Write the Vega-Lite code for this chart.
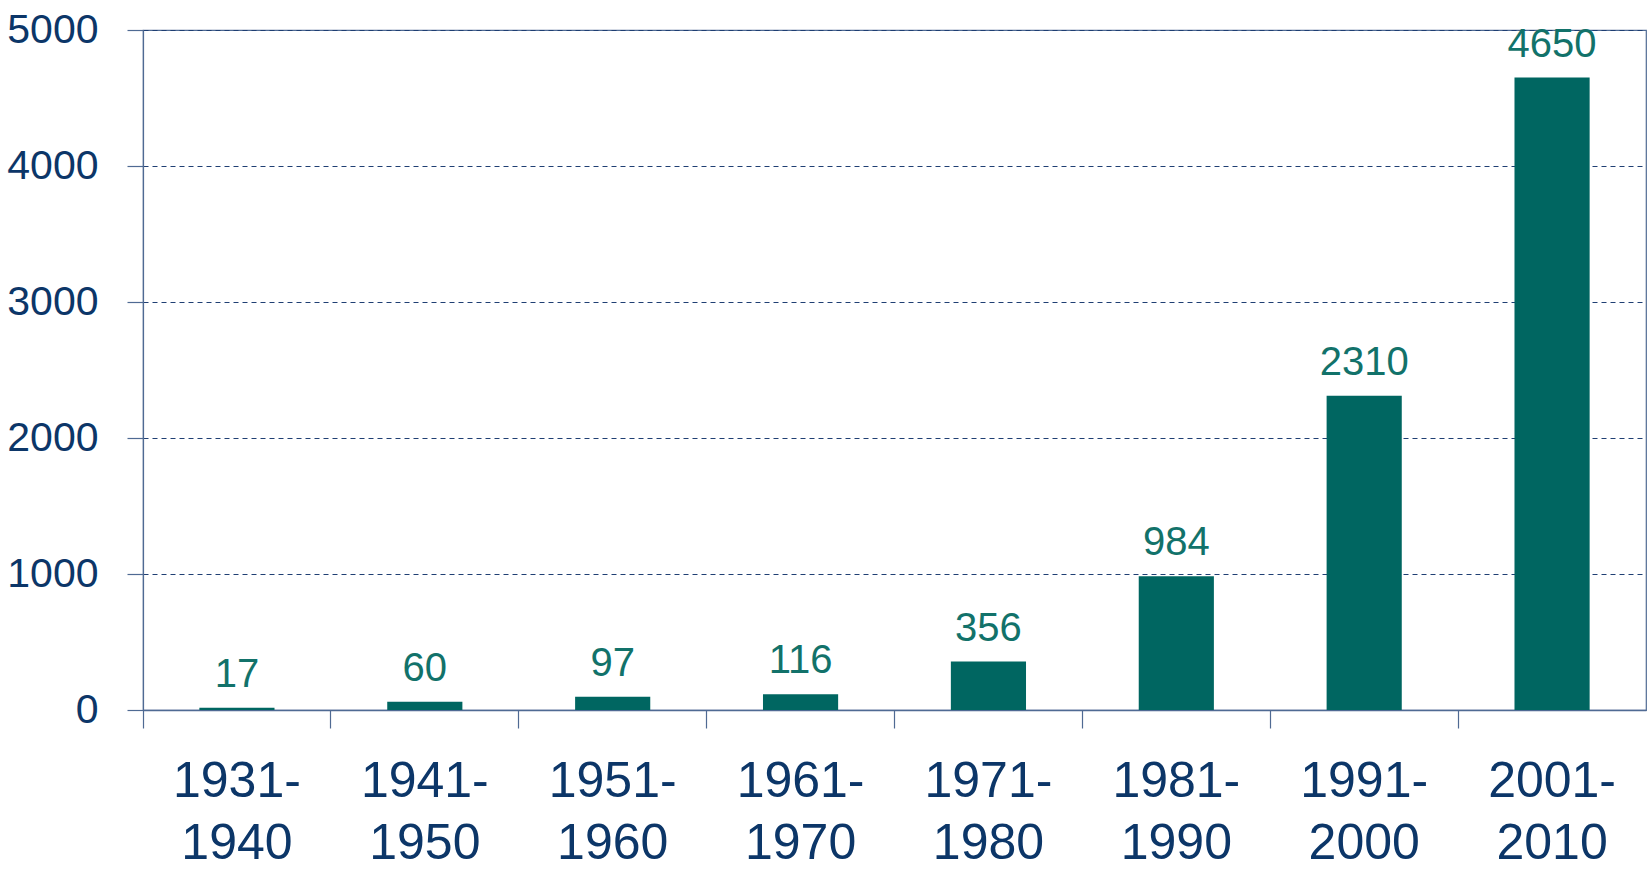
{
  "$schema": "https://vega.github.io/schema/vega-lite/v6.json",
  "autosize": {"type": "none"},
  "padding": {"left": 143, "top": 30, "right": 2, "bottom": 162},
  "width": 1503,
  "height": 680,
  "background": "white",
  "config": {
    "view": {"stroke": "#4f6a93", "strokeWidth": 1.2},
    "font": "Liberation Sans"
  },
  "data": {
    "values": [
      {"period": "1931-1940", "count": 17},
      {"period": "1941-1950", "count": 60},
      {"period": "1951-1960", "count": 97},
      {"period": "1961-1970", "count": 116},
      {"period": "1971-1980", "count": 356},
      {"period": "1981-1990", "count": 984},
      {"period": "1991-2000", "count": 2310},
      {"period": "2001-2010", "count": 4650}
    ]
  },
  "encoding": {
    "x": {
      "field": "period",
      "type": "nominal",
      "sort": null,
      "scale": {"paddingInner": 0, "paddingOuter": 0},
      "axis": {
        "title": null,
        "bandPosition": 0,
        "labelAngle": 0,
        "labelExpr": "[slice(datum.value,0,5), slice(datum.value,5)]",
        "labelFont": "Liberation Sans",
        "labelFontSize": 50,
        "labelLineHeight": 62,
        "labelColor": "#0c3668",
        "labelPadding": 28,
        "tickSize": 18,
        "tickColor": "#4f6a93",
        "tickWidth": 1.2,
        "domainColor": "#4f6a93",
        "domainWidth": 1.5,
        "grid": false
      }
    },
    "y": {
      "field": "count",
      "type": "quantitative",
      "scale": {"domain": [0, 5000], "nice": false},
      "axis": {
        "title": null,
        "values": [0, 1000, 2000, 3000, 4000, 5000],
        "format": "d",
        "labelFont": "Liberation Sans",
        "labelFontSize": 41,
        "labelColor": "#0c3668",
        "labelPadding": 29,
        "tickSize": 16,
        "tickColor": "#4f6a93",
        "tickWidth": 1.2,
        "domainColor": "#4f6a93",
        "domainWidth": 1.2,
        "grid": true,
        "gridColor": "#1f3f73",
        "gridDash": [5, 4],
        "gridWidth": 1
      }
    }
  },
  "layer": [
    {
      "mark": {"type": "bar", "color": "#006661", "width": {"band": 0.4}}
    },
    {
      "mark": {
        "type": "text",
        "baseline": "alphabetic",
        "dy": -21,
        "fontSize": 40,
        "font": "Liberation Sans",
        "color": "#12726a"
      },
      "encoding": {"text": {"field": "count", "type": "quantitative", "format": "d"}}
    }
  ]
}
